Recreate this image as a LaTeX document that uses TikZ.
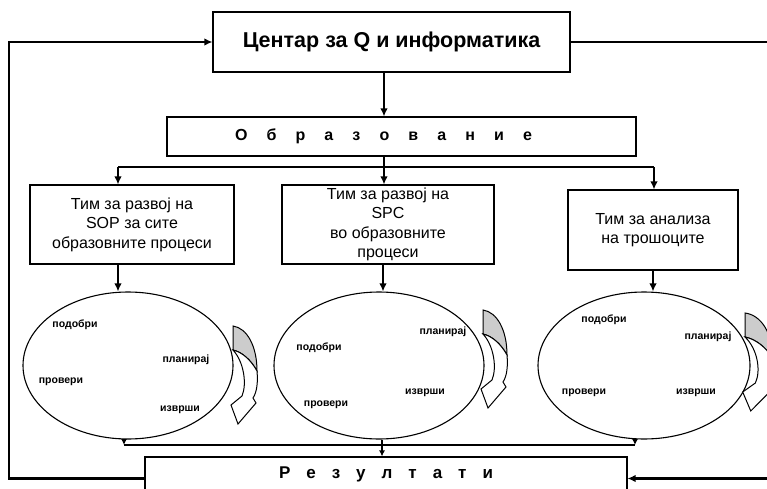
\documentclass[tikz,border=0pt]{standalone}
\usepackage{fontspec}
\setmainfont{Liberation Sans}
\usetikzlibrary{arrows.meta,shapes.geometric}
\tikzset{
  box/.style={draw, line width=1.1pt, rectangle, inner sep=0pt, align=center,
    font=\fontsize{16}{19.5}\selectfont},
  conn/.style={line width=2.5pt, -{Latex[length=8pt,width=7.5pt]}},
  plain/.style={line width=2.5pt},
  thinconn/.style={line width=1.4pt, -{Latex[length=6pt,width=6pt]}},
  thinline/.style={line width=1.4pt},
  oval/.style={draw, line width=1.1pt, ellipse, inner sep=0pt,
    minimum width=210pt, minimum height=147pt},
  lab/.style={font=\fontsize{10.5}{12}\selectfont\bfseries, inner sep=0pt},
  turnarrow/.pic={
    \filldraw[fill=gray!40, draw=black, line width=1pt]
      (0,0) .. controls (14,2) and (24,20) .. (24,45)
      .. controls (18,34) and (9,26) .. (0,24) -- cycle;
    \filldraw[fill=white, draw=black, line width=1pt]
      (0,24) .. controls (9,26) and (18,34) .. (24,45)
      .. controls (25,56) and (24,66) .. (20,72)
      -- (23,77) -- (5,98) -- (-2,79) -- (9,70)
      .. controls (14,58) and (11,36) .. (0,24) -- cycle;
  }
}
\begin{document}
\begin{tikzpicture}[x=1pt,y=-1pt]
\useasboundingbox (0,0) rectangle (767,489);
\clip (0,0) rectangle (767,489);

% boxes
\node[box, minimum width=357pt, minimum height=60pt,
  font=\fontsize{21.5}{24}\selectfont\bfseries] (top) at (391.5,42) {Центар за Q и информатика};
\node[box, minimum width=469pt, minimum height=39pt,
  font=\fontsize{16}{18}\selectfont\bfseries] (obr) at (401.5,136.5)
  {\makebox[297pt][s]{О б р а з о в а н и е}\hspace*{36pt}};
\node[box, minimum width=204pt, minimum height=79pt] (t1) at (132,224.5)
  {Тим за развој на\\SOP за сите\\образовните процеси};
\node[box, minimum width=212pt, minimum height=79pt] (t2) at (388,224.5)
  {Тим за развој на\\SPC\\во образовните\\процеси};
\node[box, minimum width=170pt, minimum height=80pt] (t3) at (653,230)
  {Тим за анализа\\на трошоците};
\node[box, minimum width=482pt, minimum height=43pt, text height=6pt, text depth=6pt,
  font=\fontsize{17}{19}\selectfont\bfseries] (res) at (386,478.5)
  {\makebox[214pt][s]{Р е з у л т а т и}};

% ellipses
\node[oval] (e1) at (128,365.5) {};
\node[oval] (e2) at (379,365.5) {};
\node[oval, minimum width=212pt] (e3) at (644,365.5) {};

% ellipse labels
\node[lab] (l1a) at (75,325) {подобри};
\node[lab] (l1b) at (186,360) {планирај};
\node[lab] (l1c) at (61,382) {провери};
\node[lab] (l1d) at (180,410) {изврши};
\node[lab] (l2a) at (443,332) {планирај};
\node[lab] (l2b) at (319,348) {подобри};
\node[lab] (l2c) at (425,393) {изврши};
\node[lab] (l2d) at (326,405) {провери};
\node[lab] (l3a) at (604,320) {подобри};
\node[lab] (l3b) at (708,337) {планирај};
\node[lab] (l3c) at (584,393) {провери};
\node[lab] (l3d) at (696,393) {изврши};

% curved arrows
\pic at (233,326) {turnarrow};
\pic at (483,310) {turnarrow};
\pic[xscale=1.15] at (745,313) {turnarrow};

% helper coordinates
\coordinate (xa) at (384,0);
\coordinate (x1) at (118,0);
\coordinate (x3) at (654,0);
\coordinate (xe2) at (383,0);
\coordinate (xe3) at (653,0);
\coordinate (bus) at (0,167);
\coordinate (bb1) at (124,445);
\coordinate (bb3) at (635,445);
\coordinate (xr) at (382,0);
\coordinate (lft) at (9,42);
\coordinate (rgt) at (790,478.5);

% top connectors
\draw[conn] (top.south -| xa) -- (obr.north -| xa);
\draw[plain] (obr.south -| xa) -- (xa |- bus);
\draw[plain] (x1 |- bus) -- (x3 |- bus);
\draw[conn] (xa |- bus) -- (t2.north -| xa);
\draw[conn] (x1 |- bus) -- (t1.north -| x1);
\draw[conn] (x3 |- bus) -- (t3.north -| x3);

% boxes to ellipses
\draw[conn] (t1.south -| x1) -- (e1.north -| x1);
\draw[conn] (t2.south -| xe2) -- (e2.north -| xe2);
\draw[conn] (t3.south -| xe3) -- (e3.north -| xe3);

% bottom bus
\draw[thinline] (bb1) -- (bb3);
\draw[thinconn] (e1.south -| bb1) -- (bb1);
\draw[thinconn] (e3.south -| bb3) -- (bb3);
\draw[thinconn] (e2.south -| xr) -- (res.north -| xr);

% feedback loops
\draw[conn] (res.west) -| (lft) -- (top.west);
\draw[conn] (top.east) -| (rgt) -- (res.east);
\end{tikzpicture}
\end{document}
